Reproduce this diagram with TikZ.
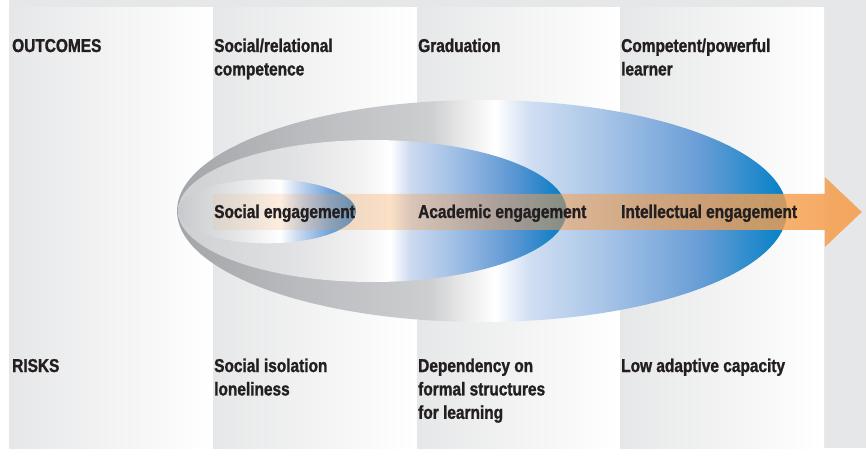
\documentclass[tikz,border=0pt]{standalone}
\usepackage{fontspec}
\setmainfont{Liberation Sans}[FakeStretch=0.83, BoldFeatures={FakeBold=1.3}]
\usetikzlibrary{fadings}

\definecolor{panelgray}{RGB}{230,231,232}
\definecolor{inkdark}{RGB}{35,31,32}
\definecolor{bandorange}{RGB}{245,160,80}

% Horizontal colour ramps for the three nested discs (25bp = left rim, 75bp = right rim)
\pgfdeclarehorizontalshading{outerdisc}{100bp}{
  rgb(0bp)=(0.639,0.647,0.659);
  rgb(25bp)=(0.639,0.647,0.659);
  rgb(35.08bp)=(0.725,0.733,0.745);
  rgb(45.74bp)=(0.804,0.808,0.816);
  rgb(48.36bp)=(0.910,0.910,0.914);
  rgb(51.07bp)=(1,1,1);
  rgb(53.93bp)=(0.816,0.871,0.949);
  rgb(59.67bp)=(0.667,0.776,0.910);
  rgb(67.87bp)=(0.412,0.616,0.839);
  rgb(75bp)=(0,0.502,0.776);
  rgb(100bp)=(0,0.502,0.776)}

\pgfdeclarehorizontalshading{middledisc}{100bp}{
  rgb(0bp)=(0.808,0.812,0.820);
  rgb(25bp)=(0.808,0.812,0.820);
  rgb(40.7bp)=(0.886,0.890,0.894);
  rgb(48.45bp)=(0.949,0.949,0.953);
  rgb(52.3bp)=(1,1,1);
  rgb(54.9bp)=(0.804,0.855,0.941);
  rgb(60.05bp)=(0.647,0.761,0.902);
  rgb(67.8bp)=(0.373,0.596,0.831);
  rgb(75bp)=(0,0.478,0.765);
  rgb(100bp)=(0,0.478,0.765)}

\pgfdeclarehorizontalshading{innerdisc}{100bp}{
  rgb(0bp)=(0.784,0.788,0.800);
  rgb(25bp)=(0.784,0.788,0.800);
  rgb(42.4bp)=(0.902,0.906,0.910);
  rgb(53.65bp)=(1,1,1);
  rgb(59.27bp)=(0.765,0.835,0.933);
  rgb(67.7bp)=(0.431,0.635,0.863);
  rgb(75bp)=(0.196,0.529,0.824);
  rgb(100bp)=(0.196,0.529,0.824)}

% The engagement arrow grows from faint to strong towards its head
\tikzfading[name=bandfade, left color=transparent!90, right color=transparent!8]

\begin{document}
\begin{tikzpicture}[x=1pt,y=-1pt,
  bodytext/.style={font=\fontsize{18.6}{23.4}\selectfont\bfseries, text=inkdark,
    inner sep=0pt, anchor=base west, align=left},
  column/.style={left color=panelgray, right color=white}]
\useasboundingbox (0,0) rectangle (866,449);

% backdrop and the four stage columns
\fill[panelgray] (9,0) rectangle (866,448);
\foreach \x/\w in {9/204, 213/204, 417/203, 620/204}
  \shade[column] (\x,8) rectangle ++(\w,440);

% nested engagement discs, all touching on the left
\shade[shading=outerdisc]  (482,211)   ellipse [x radius=305,   y radius=111];
\shade[shading=middledisc] (372.3,211) ellipse [x radius=194.3, y radius=71];
\shade[shading=innerdisc]  (267,211.3) ellipse [x radius=89,    y radius=32];

% translucent arrow running through the discs
\coordinate (bandstart) at (213,212);
\coordinate (bandtip) at (862,212);
\fill[bandorange, path fading=bandfade]
  (213,194) -- (825,194) -- (825,177) -- (bandtip) -- (825,247)
  -- (825,230) -- (213,230) -- cycle;

% row headings and stage texts (multi-line nodes sit on their last baseline)
\node[bodytext] (lblOutcomes) at (12,52)    {OUTCOMES};
\node[bodytext] (outSocial)   at (214,75.4) {Social/relational\\competence};
\node[bodytext] (outGrad)     at (418,52)   {Graduation};
\node[bodytext] (outComp)     at (621,75.4) {Competent/powerful\\learner};

\node[bodytext] (engSocial) at (214,218) {Social engagement};
\node[bodytext] (engAcad)   at (418,218) {Academic engagement};
\node[bodytext] (engIntel)  at (621,218) {Intellectual engagement};

\node[bodytext] (lblRisks)   at (12,372)    {RISKS};
\node[bodytext] (riskSocial) at (214,395.4) {Social isolation\\loneliness};
\node[bodytext] (riskDep)    at (418,418.8) {Dependency on\\formal structures\\for learning};
\node[bodytext] (riskLow)    at (621,372)   {Low adaptive capacity};
\end{tikzpicture}
\end{document}
